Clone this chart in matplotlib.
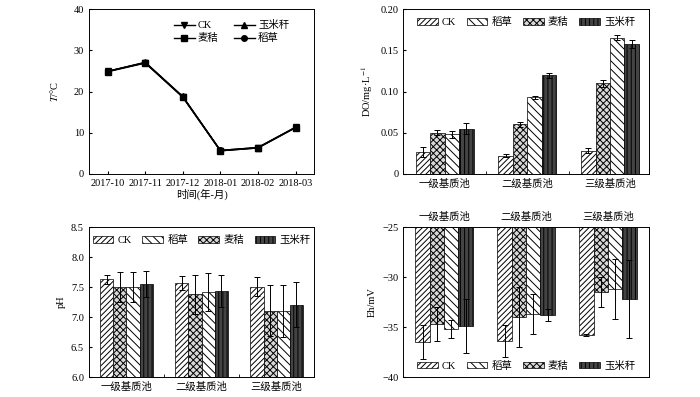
import numpy as np
import matplotlib
matplotlib.use("Agg")
import matplotlib.pyplot as plt
from matplotlib.patches import Patch

plt.rcParams['font.family'] = ['Liberation Serif', 'Noto Sans CJK SC']
plt.rcParams['mathtext.fontset'] = 'stix'
plt.rcParams['font.size'] = 7.5
plt.rcParams['hatch.linewidth'] = 0.7
plt.rcParams['xtick.direction'] = 'in'
plt.rcParams['ytick.direction'] = 'in'
plt.rcParams['axes.linewidth'] = 0.7

# data
months = ['2017-10', '2017-11', '2017-12', '2018-01', '2018-02', '2018-03']
T_ck = [24.9, 27.0, 18.7, 5.6, 6.3, 11.3]
T_corn = [24.9, 27.1, 18.8, 5.7, 6.4, 11.3]
T_wheat = [24.8, 26.9, 18.6, 5.6, 6.3, 11.2]
T_rice = [24.9, 27.0, 18.7, 5.7, 6.4, 11.3]

pools = ['一级基质池', '二级基质池', '三级基质池']
treatments = ['CK', '稻草', '麦秸', '玉米秆']

do_ck = [0.027, 0.022, 0.028]
do_wheat = [0.050, 0.060, 0.110]
do_rice = [0.048, 0.093, 0.165]
do_corn = [0.055, 0.120, 0.158]
do_ck_err = [0.006, 0.002, 0.003]
do_wheat_err = [0.003, 0.003, 0.004]
do_rice_err = [0.004, 0.002, 0.003]
do_corn_err = [0.007, 0.003, 0.005]

ph_ck = [7.63, 7.57, 7.51]
ph_wheat = [7.50, 7.38, 7.11]
ph_rice = [7.51, 7.42, 7.10]
ph_corn = [7.55, 7.44, 7.21]
ph_ck_err = [0.08, 0.11, 0.16]
ph_wheat_err = [0.25, 0.33, 0.42]
ph_rice_err = [0.25, 0.31, 0.43]
ph_corn_err = [0.22, 0.27, 0.37]

eh_ck = [-36.5, -36.4, -35.8]
eh_wheat = [-34.7, -34.0, -31.5]
eh_rice = [-35.2, -33.7, -31.2]
eh_corn = [-34.9, -33.8, -32.2]
eh_ck_err = [1.7, 1.6, 0.1]
eh_wheat_err = [1.7, 3.0, 1.5]
eh_rice_err = [0.9, 2.0, 3.0]
eh_corn_err = [2.7, 0.6, 3.9]

styles = {
    'CK': dict(facecolor='white', hatch='//////'),
    '稻草': dict(facecolor='white', hatch='\\\\\\\\'),
    '麦秸': dict(facecolor='#d8d8d8', hatch='xxxxx'),
    '玉米秆': dict(facecolor='#444444', hatch='||||'),
}

fig = plt.figure(figsize=(7, 3.97), dpi=100)
ax1 = fig.add_axes([0.127, 0.562, 0.322, 0.415])
ax2 = fig.add_axes([0.576, 0.562, 0.351, 0.415])
ax3 = fig.add_axes([0.127, 0.050, 0.322, 0.378])
ax4 = fig.add_axes([0.576, 0.050, 0.351, 0.378])

# temperature
x = np.arange(len(months))
ax1.plot(x, T_ck, '-v', color='k', ms=4, lw=1, label='CK')
ax1.plot(x, T_wheat, '-s', color='k', ms=4, lw=1, label='麦秸')
ax1.plot(x, T_corn, '-^', color='k', ms=4, lw=1, label='玉米秆')
ax1.plot(x, T_rice, '-o', color='k', ms=4, lw=1, label='稻草')
ax1.set_xlim(-0.5, 5.5)
ax1.set_ylim(0, 40)
ax1.set_yticks([0, 10, 20, 30, 40])
ax1.set_xticks(x)
ax1.set_xticklabels(months)
ax1.set_xlabel('时间(年-月)', labelpad=1)
ax1.set_ylabel('$T$/°C', labelpad=10)
ax1.legend(ncol=2, loc='upper right', frameon=False, handlelength=2,
           columnspacing=1.5, handletextpad=0.3, labelspacing=0.3,
           bbox_to_anchor=(0.93, 0.99))
ax1.tick_params(length=2.5)


def bars(ax, groups, err, order):
    w = 0.175
    xs = np.arange(len(pools))
    for i, (name, vals, e) in enumerate(zip(order, groups, err)):
        ax.bar(xs + (i - 1.5) * w, vals, w, edgecolor='k', linewidth=0.5,
               yerr=e, capsize=2,
               error_kw=dict(elinewidth=0.7, capthick=0.7, ecolor='k'),
               **styles[name])
    ax.set_xticks(xs)
    ax.set_xticklabels(pools)
    ax.set_xticks([0.5, 1.5], minor=True)
    ax.tick_params(axis='x', which='major', length=0)
    ax.tick_params(axis='x', which='minor', length=2)
    ax.tick_params(axis='y', length=2.5)


def bar_legend(ax, **kw):
    handles = [Patch(edgecolor='k', linewidth=0.5, **styles[n]) for n in treatments]
    ax.legend(handles, treatments, ncol=4, frameon=False, handlelength=2,
              handleheight=0.6, columnspacing=1.0, handletextpad=0.4, **kw)


order = ['CK', '麦秸', '稻草', '玉米秆']

# DO
bars(ax2, [do_ck, do_wheat, do_rice, do_corn],
     [do_ck_err, do_wheat_err, do_rice_err, do_corn_err], order)
ax2.set_xlim(-0.5, 2.47)
ax2.set_ylim(0, 0.20)
ax2.set_yticks([0, 0.05, 0.10, 0.15, 0.20])
ax2.set_yticklabels(['0', '0.05', '0.10', '0.15', '0.20'])
ax2.set_ylabel('DO/mg·L$^{-1}$')
bar_legend(ax2, loc='upper center', bbox_to_anchor=(0.5, 1.01))

# pH
bars(ax3, [ph_ck, ph_wheat, ph_rice, ph_corn],
     [ph_ck_err, ph_wheat_err, ph_rice_err, ph_corn_err], order)
ax3.set_xlim(-0.5, 2.5)
ax3.set_ylim(6.0, 8.5)
ax3.set_yticks(np.arange(6.0, 8.51, 0.5))
ax3.set_yticklabels(['6.0', '6.5', '7.0', '7.5', '8.0', '8.5'])
ax3.set_ylabel('pH')
bar_legend(ax3, loc='upper center', bbox_to_anchor=(0.5, 1.01))

# Eh
bars(ax4, [eh_ck, eh_wheat, eh_rice, eh_corn],
     [eh_ck_err, eh_wheat_err, eh_rice_err, eh_corn_err], order)
ax4.set_xlim(-0.5, 2.5)
ax4.set_ylim(-40, -25)
ax4.set_yticks([-40, -35, -30, -25])
ax4.set_yticklabels(['−40', '−35', '−30', '−25'])
ax4.xaxis.tick_top()
ax4.tick_params(axis='x', which='minor', length=0)
ax4.set_ylabel('Eh/mV')
bar_legend(ax4, loc='lower center', bbox_to_anchor=(0.5, -0.02))

fig.savefig('out.png', dpi=100)
